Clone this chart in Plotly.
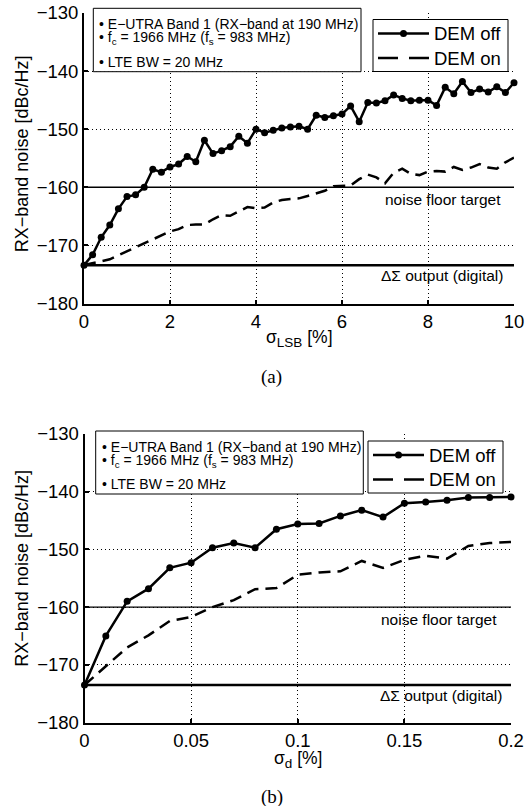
import plotly.graph_objects as go

W, H = 526, 806

# ---------------- data: panel (a) ----------------
sigma_lsb = [0, 0.2, 0.4, 0.6, 0.8, 1.0, 1.2, 1.4, 1.6, 1.8, 2.0, 2.2, 2.4, 2.6, 2.8, 3.0,
             3.2, 3.4, 3.6, 3.8, 4.0, 4.2, 4.4, 4.6, 4.8, 5.0, 5.2, 5.4, 5.6, 5.8, 6.0,
             6.2, 6.4, 6.6, 6.8, 7.0, 7.2, 7.4, 7.6, 7.8, 8.0, 8.2, 8.4, 8.6, 8.8, 9.0,
             9.2, 9.4, 9.6, 9.8, 10.0]
dem_off_a = [-173.4, -171.6, -168.6, -166.5, -163.7, -161.6, -161.3, -160.0, -156.9, -157.4,
             -156.5, -156.0, -154.7, -155.6, -151.9, -154.2, -153.7, -153.0, -151.2, -152.4,
             -150.0, -150.6, -150.2, -149.8, -149.6, -149.5, -150.0, -147.6, -148.0, -147.7,
             -147.4, -146.0, -148.7, -145.4, -145.5, -145.1, -144.1, -144.7, -145.1, -145.0,
             -145.0, -145.9, -142.8, -143.9, -141.8, -143.7, -143.1, -143.6, -142.7, -143.7,
             -142.0]
dem_on_a = [-173.4, -173.1, -172.8, -172.4, -171.7, -171.0, -170.3, -169.7, -169.0, -168.2,
            -167.6, -167.2, -166.5, -166.4, -166.4, -165.5, -164.8, -164.9, -164.2, -163.4,
            -163.6, -163.5, -162.6, -162.2, -162.0, -161.9, -161.5, -161.0, -160.6, -159.8,
            -159.7, -159.7, -158.6, -157.8, -158.3, -159.3, -157.5, -156.8, -157.7, -157.9,
            -157.3, -157.2, -157.3, -156.5, -157.0, -156.6, -156.0, -156.6, -156.8, -155.7,
            -154.9]

# ---------------- data: panel (b) ----------------
sigma_d = [0, 0.01, 0.02, 0.03, 0.04, 0.05, 0.06, 0.07, 0.08, 0.09, 0.10,
           0.11, 0.12, 0.13, 0.14, 0.15, 0.16, 0.17, 0.18, 0.19, 0.20]
dem_off_b = [-173.5, -165.0, -159.0, -156.8, -153.2, -152.3, -149.7, -148.9, -149.7, -146.5,
             -145.6, -145.5, -144.2, -143.2, -144.4, -142.0, -141.8, -141.5, -141.0, -141.0,
             -140.9]
dem_on_b = [-173.5, -170.3, -167.0, -164.9, -162.4, -161.7, -160.0, -158.8, -156.9, -156.7,
            -154.4, -154.0, -153.8, -152.0, -153.2, -151.8, -151.1, -151.6, -149.4, -148.9,
            -148.7]

noise_floor_target = -160.0
ds_output_floor_a = -173.4
ds_output_floor_b = -173.5

y_ticks = [-180, -170, -160, -150, -140, -130]
x_ticks_a = [0, 2, 4, 6, 8, 10]
x_ticks_b = [0, 0.05, 0.1, 0.15, 0.2]
x_ticklabels_b = ["0", "0.05", "0.1", "0.15", "0.2"]

series_names = ["DEM off", "DEM on"]
info_lines = ["\u2022 E\u2212UTRA Band 1 (RX\u2212band at 190 MHz)",
              "\u2022 f<sub>c</sub> = 1966 MHz (f<sub>s</sub> = 983 MHz)",
              "\u2022 LTE BW = 20 MHz"]

SANS = "Liberation Sans, Arial, Helvetica, sans-serif"
SERIF = "Liberation Serif, Times New Roman, serif"
OFF_STYLE = dict(color="black", width=2.5)
ON_STYLE = dict(color="black", width=2.5, dash="12px,7px")


def px(x):
    return x / W


def py(y):
    return 1 - y / H


fig = go.Figure()


def add_panel(xs, off, on, ds_floor, xa, ya):
    fig.add_trace(go.Scatter(x=[xs[0], xs[-1]], y=[noise_floor_target, noise_floor_target],
                             mode="lines", line=dict(color="black", width=1.4),
                             showlegend=False, hoverinfo="skip", xaxis=xa, yaxis=ya))
    fig.add_trace(go.Scatter(x=[xs[0], xs[-1]], y=[ds_floor, ds_floor],
                             mode="lines", line=dict(color="black", width=2.5),
                             showlegend=False, hoverinfo="skip", xaxis=xa, yaxis=ya))
    fig.add_trace(go.Scatter(x=xs, y=off, mode="lines+markers", name=series_names[0],
                             line=OFF_STYLE,
                             marker=dict(color="black", size=7, symbol="circle"),
                             cliponaxis=False, showlegend=False, xaxis=xa, yaxis=ya))
    fig.add_trace(go.Scatter(x=xs, y=on, mode="lines", name=series_names[1],
                             line=ON_STYLE, showlegend=False, xaxis=xa, yaxis=ya))


add_panel(sigma_lsb, dem_off_a, dem_on_a, ds_output_floor_a, "x", "y")
add_panel(sigma_d, dem_off_b, dem_on_b, ds_output_floor_b, "x2", "y2")

axis_common = dict(showline=True, linecolor="black", linewidth=2,
                   ticks="inside", ticklen=4, tickwidth=1.5, tickcolor="black",
                   showgrid=True, gridcolor="black", gridwidth=1, griddash="1px,3px",
                   zeroline=False, tickfont=dict(family=SANS, size=18.5, color="black"),
                   automargin=False)

fig.update_layout(
    width=W, height=H,
    margin=dict(l=0, r=0, t=0, b=0),
    paper_bgcolor="white", plot_bgcolor="white",
    font=dict(family=SANS, color="black"),
    showlegend=False,
    xaxis=dict(domain=[px(84), px(514)], range=[0, 10], tickvals=x_ticks_a,
               anchor="y", **axis_common),
    yaxis=dict(domain=[py(303.5), py(13)], range=[-180, -130], tickvals=y_ticks,
               anchor="x", **axis_common),
    xaxis2=dict(domain=[px(84.5), px(511)], range=[0, 0.2], tickvals=x_ticks_b,
                ticktext=x_ticklabels_b, anchor="y2", **axis_common),
    yaxis2=dict(domain=[py(722.5), py(434)], range=[-180, -130], tickvals=y_ticks,
                anchor="x2", **axis_common),
)

shapes = []
annotations = []

# info boxes
for (bx0, by0, bx1, by1) in [(93.3, 8.3, 361, 71.7), (95.7, 431, 363.3, 494)]:
    shapes.append(dict(type="rect", xref="paper", yref="paper",
                       x0=px(bx0), x1=px(bx1), y0=py(by1), y1=py(by0),
                       line=dict(color="black", width=1), fillcolor="white", layer="above"))

for (left, top) in [(97, 8.3), (99.5, 431)]:
    offs = [15.7, 29.8, 53.4]
    for txt, off in zip(info_lines, offs):
        annotations.append(dict(text=txt, xref="paper", yref="paper",
                                x=px(left), y=py(top + off), xanchor="left", yanchor="middle",
                                showarrow=False, font=dict(family=SANS, size=14, color="black")))

# legend boxes (drawn manually to match the compact MATLAB legend)
for (lx0, ly0, lx1, ly1) in [(373, 19.5, 508, 71.5), (368, 441, 503, 493)]:
    shapes.append(dict(type="rect", xref="paper", yref="paper",
                       x0=px(lx0), x1=px(lx1), y0=py(ly1), y1=py(ly0),
                       line=dict(color="black", width=1), fillcolor="white", layer="above"))
    r1 = ly0 + 14
    r2 = ly0 + 38.5
    s0, s1 = lx0 + 5, lx0 + 56
    shapes.append(dict(type="line", xref="paper", yref="paper",
                       x0=px(s0), x1=px(s1), y0=py(r1), y1=py(r1),
                       line=OFF_STYLE, layer="above"))
    cx = (s0 + s1) / 2
    shapes.append(dict(type="circle", xref="paper", yref="paper",
                       x0=px(cx - 3.5), x1=px(cx + 3.5), y0=py(r1 + 3.5), y1=py(r1 - 3.5),
                       line=dict(color="black", width=0), fillcolor="black", layer="above"))
    shapes.append(dict(type="line", xref="paper", yref="paper",
                       x0=px(s0), x1=px(s1), y0=py(r2), y1=py(r2),
                       line=dict(color="black", width=2.5, dash="20px,11px"), layer="above"))
    for name, r in zip(series_names, [r1, r2]):
        annotations.append(dict(text=name, xref="paper", yref="paper",
                                x=px(lx0 + 59), y=py(r), xanchor="left", yanchor="middle",
                                showarrow=False, font=dict(family=SANS, size=18.5, color="black")))

# reference line labels
for xr, yr, xpos_nf, xpos_ds, dsf in [("x", "y", 9.75, 9.78, ds_output_floor_a),
                                       ("x2", "y2", 0.1945, 0.1966, ds_output_floor_b)]:
    annotations.append(dict(text="noise floor target", xref=xr, yref=yr, x=xpos_nf,
                            y=noise_floor_target, xanchor="right", yanchor="middle", yshift=-12.5,
                            showarrow=False, font=dict(family=SANS, size=15.5, color="black")))
    annotations.append(dict(text="\u0394\u03a3 output (digital)", xref=xr, yref=yr, x=xpos_ds,
                            y=dsf, xanchor="right", yanchor="middle", yshift=-10.5,
                            showarrow=False, font=dict(family=SANS, size=15.5, color="black")))

# axis titles
for yc in [153.5, 568]:
    annotations.append(dict(text="RX\u2212band noise [dBc/Hz]", xref="paper", yref="paper",
                            x=px(21.7), y=py(yc), xanchor="center", yanchor="middle",
                            textangle=-90, showarrow=False,
                            font=dict(family=SANS, size=18, color="black")))

annotations.append(dict(text="\u03c3<sub><span style='font-size:13.5px'>LSB</span></sub> [%]",
                        xref="paper", yref="paper", x=px(299), y=py(338),
                        xanchor="center", yanchor="middle", showarrow=False,
                        font=dict(family=SANS, size=17.5, color="black")))
annotations.append(dict(text="\u03c3<sub><span style='font-size:13.5px'>d</span></sub> [%]",
                        xref="paper", yref="paper", x=px(298), y=py(759),
                        xanchor="center", yanchor="middle", showarrow=False,
                        font=dict(family=SANS, size=17.5, color="black")))

# captions
for cap, yc in [("(a)", 376.7), ("(b)", 796.7)]:
    annotations.append(dict(text=cap, xref="paper", yref="paper", x=px(271.7), y=py(yc),
                            xanchor="center", yanchor="middle", showarrow=False,
                            font=dict(family=SERIF, size=19, color="black")))

fig.update_layout(shapes=shapes, annotations=annotations)

fig.write_html("out.html")
